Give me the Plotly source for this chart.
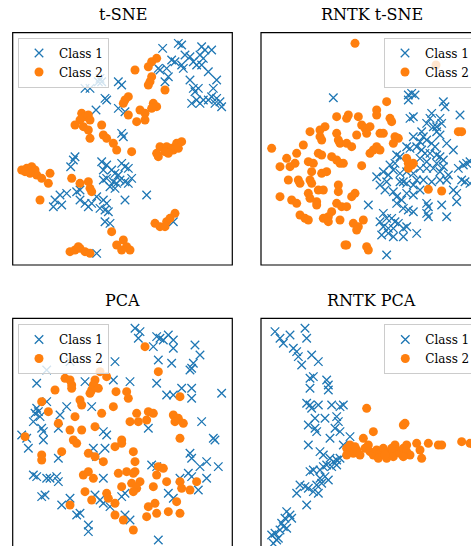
import plotly.graph_objects as go

# ---- data (arbitrary embedding units) ----
tsne_class1 = [(488,145),(535,130),(545,135),(515,180),(525,185),(555,165),(570,170),(580,185),(605,140),(615,150),
    (635,150),(600,165),(610,175),(590,195),(605,195),(545,195),(550,205),(475,205),(480,210),(500,205),(505,230),
    (495,245),(625,215),(650,240),(570,240),(580,265),(595,265),(585,275),(640,265),(635,290),(625,300),(590,300),
    (600,310),(610,300),(650,295),(660,305),(665,320),(645,310),(575,310),
    (255,265),(270,265),(295,245),(305,245),(300,235),(355,245),(365,255),(315,295),(320,300),(288,330),(355,325),
    (375,335),(365,400),(370,410),
    (225,470),(220,480),(212,500),(305,485),(320,495),(310,510),(365,490),(375,500),(385,505),(335,510),(345,520),
    (355,525),(320,535),(310,540),(340,545),(350,550),(360,540),(375,545),(385,550),(395,535),(330,560),(345,565),
    (240,570),(230,575),(200,580),(180,585),(165,600),(160,620),(185,615),(240,600),(255,610),(265,620),(275,610),
    (290,590),(310,600),(320,610),(300,625),(315,630),(325,635),(375,600),(440,585),(315,665),(330,670),(520,665),
    (290,760)]
tsne_class2 = [(470,175),(455,185),(445,200),(405,210),(455,230),(450,245),(445,255),(495,270),(385,290),(375,300),
    (370,310),(460,310),(470,320),(455,325),(420,330),(435,340),(385,345),(410,365),(435,360),
    (245,340),(255,350),(265,345),(240,360),(270,360),(225,375),(250,380),(265,390),(305,375),(270,415),
    (310,405),(320,415),(340,430),(350,450),(395,455),
    (480,440),(500,440),(515,445),(530,430),(545,425),(520,450),(495,455),(470,460),(475,470),(505,460),(535,445),
    (65,510),(80,505),(95,500),(105,510),(110,525),(125,535),(150,520),(145,550),(90,520),(75,515),(120,600),
    (215,535),(240,550),(265,545),(270,565),(275,575),
    (465,670),(480,680),(500,665),(510,655),(525,640),(495,680),(335,695),
    (350,735),(370,720),(380,740),(390,750),(365,750),
    (210,755),(225,750),(240,745),(255,755),(270,760),(235,740)]

rntk_tsne_class1 = [(280,293),(505,285),(515,280),(525,285),(505,300),(610,305),(615,320),(575,340),(570,355),
    (600,355),(660,345),(510,355),(520,350),(560,370),(580,380),(590,380),(605,370),(545,395),(550,410),(520,410),
    (590,395),(600,405),(540,425),(560,420),(575,430),(585,440),(500,440),(510,445),(530,440),(620,430),(640,450),
    (470,465),(480,470),(465,490),(545,450),(555,460),(570,460),(590,465),(600,470),(610,480),(540,475),(560,485),
    (590,490),(610,500),(450,495),(430,515),(445,525),(460,510),(480,520),(500,515),(520,520),(540,505),(560,505),
    (580,505),(600,515),(625,525),(655,505),(670,495),(680,490),(690,485),(665,540),(675,545),(690,550),(410,530),
    (420,555),(435,570),(440,545),(480,545),(490,545),(500,550),(520,555),(530,540),(550,540),(575,545),(600,540),
    (620,540),(640,570),(650,580),(460,575),(470,590),(485,600),(500,580),(520,585),(540,570),(385,615),(470,610),
    (490,625),(505,630),(560,610),(565,620),(605,615),(650,605),(430,640),(440,655),(455,655),(465,665),(475,670),
    (420,665),(430,680),(445,685),(460,685),(490,685),(500,680),(530,700),(490,710),(425,705),(445,700),(460,710),
    (520,635),(560,640),(565,650),(620,650),(440,765)]
rntk_tsne_class2 = [(345,130),(588,195),(440,305),(410,330),(410,345),(450,355),(455,365),(325,345),(320,355),
    (290,350),(355,350),(255,380),(240,390),(210,395),(240,410),(245,420),(290,400),(295,420),(300,430),(320,430),
    (335,440),(365,375),(375,385),(390,380),(380,400),(350,405),(420,400),(430,400),(465,410),(475,415),(460,430),
    (410,440),(400,450),(390,460),(420,450),(190,435),(170,460),(95,445),(140,475),(120,500),(150,500),(165,490),
    (205,485),(220,490),(235,460),(245,465),(275,470),(290,480),(300,490),(310,490),(365,497),(500,475),(505,490),
    (515,495),(505,505),(520,490),(655,395),(665,395),(215,515),(245,520),(260,515),(210,540),(215,550),(145,540),
    (175,540),(180,550),(120,590),(155,600),(170,610),(205,580),(210,595),(235,570),(250,570),(295,555),(295,575),
    (335,590),(345,580),(290,610),(305,620),(320,620),(275,635),(265,650),(250,655),(265,665),(300,660),(180,645),
    (195,655),(205,660),(230,605),(230,615),(340,670),(355,680),(350,690),(370,660),(320,735),(315,735),(380,740),
    (385,750),(565,568),(605,573)]

pca_class1 = [(405,130),(420,140),(415,160),(470,155),(480,160),(490,165),(505,150),(520,165),(460,185),(520,190),
    (585,180),(600,210),(475,225),(515,235),(580,235),(575,250),(570,255),(345,230),(210,230),(140,255),(110,295),
    (255,290),(340,285),(390,290),(470,295),(575,310),(545,310),(500,330),(520,330),(575,340),(665,325),(140,350),
    (110,370),(115,380),(105,385),(120,395),(100,410),(200,365),(275,365),(180,390),(175,430),(125,430),(130,440),
    (65,450),(80,460),(85,490),(130,465),(310,440),(320,450),(445,430),(605,410),(640,460),(645,465),(280,490),
    (315,490),(290,515),(175,520),(570,505),(575,520),(600,545),(620,530),(655,545),(455,540),(470,545),(565,565),
    (575,575),(620,580),(100,570),(110,575),(140,580),(150,580),(170,575),(175,590),(310,580),(540,580),(135,630),
    (125,635),(285,630),(300,645),(310,655),(330,665),(365,635),(375,625),(505,625),(520,640),(595,615),(210,640),
    (185,660),(230,690),(240,685),(375,690),(390,705),(265,720),(265,740),(475,765)]
pca_class2 = [(435,185),(475,260),(195,280),(210,285),(215,300),(215,310),(165,315),(300,260),(320,275),(285,285),
    (280,300),(275,315),(270,325),(295,310),(348,320),(380,320),(385,340),(125,350),(145,380),(240,345),(245,360),
    (225,395),(340,365),(305,385),(285,425),(175,415),(210,435),(245,435),(540,335),(410,385),(445,380),(460,385),
    (440,405),(390,410),(415,410),(520,390),(535,400),(525,410),(550,415),(540,460),(75,455),(220,465),(230,475),
    (365,465),(365,475),(345,485),(400,500),(405,530),(405,560),(185,500),(125,510),(125,525),(265,505),(285,515),
    (310,530),(475,545),(490,550),(470,570),(250,570),(265,560),(280,580),(355,565),(380,560),(400,565),(420,590),
    (395,595),(365,605),(410,610),(400,620),(460,605),(500,590),(540,590),(545,610),(570,615),(590,590),(255,620),
    (275,645),(320,625),(325,640),(345,655),(210,660),(445,665),(465,655),(470,685),(440,695),(505,680),(530,650),
    (540,685),(345,690),(370,705),(400,735)]

rntk_pca_class1 = [(105,140),(120,160),(130,175),(150,150),(160,190),(170,200),(175,215),(185,240),(195,130),
    (200,160),(215,210),(235,230),(210,280),(220,275),(210,310),(260,285),(265,300),(265,315),(200,355),(210,360),
    (235,360),(215,370),(275,360),(300,365),(310,360),(225,400),(255,400),(290,395),(295,410),(285,430),(300,440),
    (205,420),(225,430),(230,440),(270,460),(330,455),(205,480),(310,480),(240,500),(250,510),(270,520),(280,530),
    (290,525),(300,520),(260,540),(250,545),(240,555),(220,555),(210,560),(275,545),(290,540),(240,580),(255,575),
    (265,585),(180,600),(195,605),(205,610),(230,600),(245,595),(220,620),(235,625),(170,625),(200,660),(140,680),
    (150,690),(135,700),(155,700),(125,715),(130,725),(120,735),(140,730),(105,745),(95,750),(110,765),(100,775),
    (115,760)]
rntk_pca_class2 = [(380,370),(490,420),(495,415),(400,440),(370,460),(320,490),(330,500),(340,505),(350,495),
    (360,510),(375,490),(390,500),(400,510),(410,495),(420,505),(430,490),(440,520),(450,500),(460,515),(465,480),
    (470,495),(480,505),(490,490),(500,500),(510,510),(320,510),(330,480),(345,485),(385,480),(415,520),(435,510),
    (455,490),(490,515),(500,480),(530,475),(540,495),(545,520),(565,475),(595,480),(605,480),(665,470),(690,475),
    (700,478)]

titles = ["t-SNE", "RNTK t-SNE", "PCA", "RNTK PCA"]
class_names = ["Class 1", "Class 2"]

panels = [
    (tsne_class1, tsne_class2),
    (rntk_tsne_class1, rntk_tsne_class2),
    (pca_class1, pca_class2),
    (rntk_pca_class1, rntk_pca_class2),
]

# ---- layout geometry (figure pixels) ----
W, H = 471, 546
# full axes boxes: (left, top, right, bottom) in px; right/bottom panels extend past the canvas
boxes = [(12.7, 32.7, 232.3, 265.0), (261.0, 32.7, 481.0, 265.0),
         (12.7, 318.3, 232.3, 551.0), (261.0, 318.3, 481.0, 551.0)]
# axis ranges of the visible part of each box
xranges = [[38, 697], [63, 693], [38, 697], [63, 693]]
yranges = [[795, 98], [795, 98], [783, 100], [783, 100]]
legend_pos = [(18, 37.5), (384, 37.5), (18, 324), (384.3, 324)]

BLUE = "#1f77b4"
ORANGE = "#ff7f0e"
FONT = "DejaVu Serif"

fig = go.Figure()
layout = dict(width=W, height=H, margin=dict(l=0, r=0, t=0, b=0, autoexpand=False),
              paper_bgcolor="white", plot_bgcolor="white", showlegend=True,
              font=dict(family=FONT, size=12, color="black"))
shapes, annotations = [], []

for i, ((c1, c2), title) in enumerate(zip(panels, titles)):
    n = "" if i == 0 else str(i + 1)
    xa, ya = "x" + n, "y" + n
    leg = "legend" + n
    l, t, r, b = boxes[i]
    xd = [l / W, min(r, W) / W]
    yd = [max(0.0, 1 - b / H), 1 - t / H]
    layout["xaxis" + n] = dict(domain=xd, range=xranges[i], anchor=ya, showgrid=False, zeroline=False,
                               showticklabels=False, ticks="", showline=False)
    layout["yaxis" + n] = dict(domain=yd, range=yranges[i], anchor=xa, showgrid=False, zeroline=False,
                               showticklabels=False, ticks="", showline=False)
    fig.add_trace(go.Scatter(x=[p[0] for p in c1], y=[p[1] for p in c1], mode="markers", name=class_names[0],
                             xaxis=xa, yaxis=ya, legend=leg,
                             marker=dict(symbol="x-thin-open", size=8.5, color=BLUE,
                                         line=dict(width=1.3, color=BLUE))))
    fig.add_trace(go.Scatter(x=[p[0] for p in c2], y=[p[1] for p in c2], mode="markers", name=class_names[1],
                             xaxis=xa, yaxis=ya, legend=leg,
                             marker=dict(symbol="circle", size=9, color=ORANGE, line=dict(width=0))))
    shapes.append(dict(type="rect", xref="paper", yref="paper", x0=l / W, x1=r / W, y0=1 - b / H, y1=1 - t / H,
                       line=dict(color="black", width=1.2), layer="above"))
    annotations.append(dict(text=title, xref="paper", yref="paper", x=(l + r) / 2 / W if i % 2 == 0 else 371.7 / W,
                            y=1 - (t - 18) / H, xanchor="center", yanchor="middle", showarrow=False,
                            font=dict(family=FONT, size=16, color="black")))
    lx, ly = legend_pos[i]
    layout[leg] = dict(x=lx / W, y=1 - ly / H, xanchor="left", yanchor="top",
                       bgcolor="rgba(255,255,255,0.8)", bordercolor="#cccccc", borderwidth=1,
                       font=dict(family=FONT, size=12, color="black"), itemsizing="trace")

layout["shapes"] = shapes
layout["annotations"] = annotations
fig.update_layout(**layout)
fig.write_html("out.html", config={"displayModeBar": False},
               post_script="document.body.style.margin='0';")
